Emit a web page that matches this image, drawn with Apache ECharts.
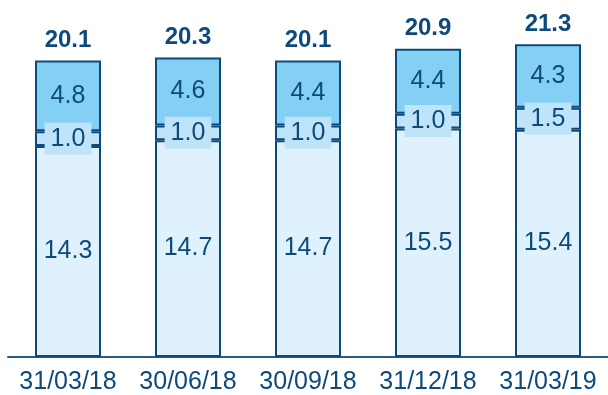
<!DOCTYPE html>
<html>
<head>
<meta charset="utf-8">
<script src="https://cdn.jsdelivr.net/npm/echarts@6/dist/echarts.min.js"></script>
<style>
  html, body { margin: 0; padding: 0; background: #ffffff; }
  #chart { width: 608px; height: 395px; }
</style>
</head>
<body>
<div id="chart"></div>
<script>
// Quarter-end dates
const categories = ['31/03/18', '30/06/18', '30/09/18', '31/12/18', '31/03/19'];
// Stacked components, bottom to top
const baseValues = [14.3, 14.7, 14.7, 15.5, 15.4];
const midValues = [1.0, 1.0, 1.0, 1.0, 1.5];
const topValues = [4.8, 4.6, 4.4, 4.4, 4.3];
// Reported totals shown above each bar
const totals = [20.1, 20.3, 20.1, 20.9, 21.3];

const DARK = '#0d4a7b';
const FONT = '"Liberation Sans", Arial, sans-serif';

const fmt1 = p => Number(p.value).toFixed(1);

const chart = echarts.init(document.getElementById('chart'), null, { renderer: 'canvas' });

chart.setOption({
  animation: false,
  grid: { left: 8, right: -4, top: 3, bottom: 38 },
  xAxis: {
    type: 'category',
    data: categories,
    axisLine: { show: true, lineStyle: { color: '#2a5a88', width: 2 } },
    axisTick: { show: false },
    axisLabel: { interval: 0, hideOverlap: false, color: DARK, fontSize: 25, fontFamily: FONT, margin: 13 }
  },
  yAxis: {
    type: 'value',
    min: 0,
    max: 24,
    show: false,
    splitLine: { show: false }
  },
  series: [
    {
      type: 'bar',
      stack: 'total',
      barWidth: 66,
      data: baseValues,
      itemStyle: { color: '#dff1fd', borderColor: DARK, borderWidth: 2 },
      label: { show: true, position: 'inside', formatter: fmt1, color: DARK, fontSize: 25, fontFamily: FONT }
    },
    {
      type: 'bar',
      stack: 'total',
      barWidth: 66,
      data: midValues,
      itemStyle: { color: '#bfe4f9', borderColor: DARK, borderWidth: 2 },
      label: {
        show: true, position: 'inside', formatter: fmt1, color: DARK, fontSize: 25, fontFamily: FONT,
        backgroundColor: '#bfe4f9', padding: [4, 6, 3, 6]
      },
      z: 3
    },
    {
      type: 'bar',
      stack: 'total',
      barWidth: 66,
      data: topValues,
      itemStyle: { color: '#84d0f5', borderColor: DARK, borderWidth: 2 },
      label: { show: true, position: 'inside', formatter: fmt1, color: DARK, fontSize: 25, fontFamily: FONT }
    },
    {
      type: 'bar',
      stack: 'total',
      barWidth: 66,
      data: totals.map(() => 0),
      itemStyle: { color: 'rgba(0,0,0,0)', borderWidth: 0 },
      label: {
        show: true, position: 'top', distance: 8,
        formatter: p => totals[p.dataIndex].toFixed(1),
        color: DARK, fontSize: 24, fontWeight: 'bold', fontFamily: FONT
      }
    }
  ]
});
</script>
</body>
</html>
